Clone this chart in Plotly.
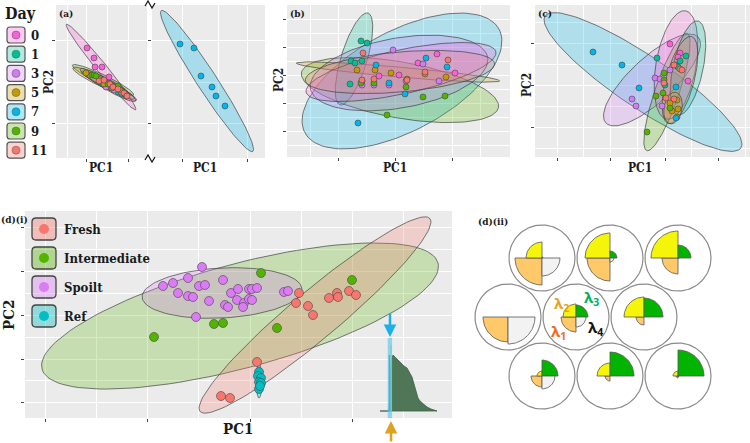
import numpy as np
import plotly.graph_objects as go

W, H = 750, 443
FONT = "DejaVu Serif Condensed, DejaVu Serif, serif"
SANS = "Open Sans, Noto Sans, sans-serif"


def px(x):
    return x / W


def py(y):
    return 1 - y / H


# ---------------- data ----------------
days = ["0", "1", "3", "5", "7", "9", "11"]
day_colors = ["#FB61D7", "#00C094", "#D07CF5", "#C49A00", "#00B6EB", "#53B400", "#F8766D"]

# panel (a) left: PC scores (screen units)
a_left_points = {
    "0": ([87, 94, 95, 102, 109], [48, 58, 67, 67, 77]),
    "5": ([86, 104, 112, 120], [73, 84, 88, 90]),
    "9": ([92, 94, 96, 108, 118], [75, 75, 76, 84, 86]),
    "1": ([100, 112, 118, 122, 126], [82, 88, 92, 94, 96]),
    "3": ([106, 114, 121], [87, 90, 92]),
    "11": ([99, 104, 110, 113, 118, 124, 127], [81, 80, 84, 87, 89, 93, 96]),
}
a_left_ellipses = [
    ("0", 101, 67, 55, 5, -51),
    ("9", 103, 80, 34, 5, -26),
    ("5", 101, 81, 31, 5, -25),
    ("1", 108, 85, 30, 4, -27),
    ("3", 110, 86, 30, 4, -28),
    ("11", 108, 85, 32, 5, -30),
]
a_right_points = {"7": ([180, 194, 201, 212, 216, 225], [44, 48, 76, 87, 96, 106])}
a_right_ellipses = [("7", 207, 81, 84, 10, -57)]

b_points = {
    "1": ([361, 367, 351, 355, 362, 350], [41, 43, 61, 63, 61, 84]),
    "11": ([363, 448, 425, 407, 374, 362], [53, 60, 72, 80, 79, 80]),
    "7": ([376, 426, 447, 389, 405, 358], [65, 58, 67, 83, 94, 123]),
    "3": ([393, 423, 439, 406, 374, 362, 389], [50, 64, 81, 81, 85, 85, 85]),
    "0": ([437, 418, 455, 379, 399, 362], [54, 63, 73, 76, 75, 81]),
    "5": ([357, 375, 391, 425, 446, 407], [70, 70, 73, 74, 77, 79]),
    "9": ([361, 374, 406, 423, 445, 387], [83, 83, 87, 97, 96, 115]),
}
b_ellipses = [
    ("7", 402, 81, 110, 50, 28),
    ("9", 400, 90, 100, 28, -10),
    ("1", 354, 59, 48, 13, 73),
    ("5", 398, 72, 102, 5, -5),
    ("3", 399, 73, 90, 35, 10),
    ("0", 401, 72, 97, 22, 12),
    ("11", 400, 72, 95, 20, 5),
]

c_points = {
    "7": ([593, 622, 639, 676, 676], [52, 65, 88, 87, 118]),
    "3": ([632, 636, 655, 660, 670, 662], [99, 106, 78, 79, 70, 106]),
    "0": ([670, 680, 678, 688, 675], [44, 53, 57, 81, 65]),
    "1": ([657, 686, 680, 665, 678], [58, 56, 61, 85, 67]),
    "9": ([647, 656, 664, 664, 663, 670], [132, 96, 73, 80, 93, 108]),
    "11": ([674, 680, 682, 664, 666, 674], [65, 69, 70, 83, 98, 99]),
    "5": ([670, 677, 678, 672, 677], [103, 100, 109, 111, 117]),
}
c_ellipses = [
    ("7", 643, 82, 118, 26, -34),
    ("3", 652, 80, 63, 22, 43),
    ("9", 667, 92, 62, 12, 71),
    ("0", 676, 65, 55, 20, 80),
    ("1", 688, 68, 48, 15, 78),
    ("11", 680, 80, 45, 14, 75),
    ("5", 673, 108, 16, 9, 80),
]

groups = ["Fresh", "Intermediate", "Spoilt", "Ref"]
group_colors = ["#F8766D", "#53B400", "#DB7BF5", "#00BFC4"]
d_points = {
    "Spoilt": ([202, 163, 173, 188, 178, 188, 193, 199, 205, 209, 223, 231, 238, 237, 244, 243, 225, 228,
                196, 249, 249, 252, 257, 252, 284, 288],
               [267, 286, 283, 278, 293, 296, 297, 286, 285, 301, 280, 293, 289, 300, 303, 307, 305, 307,
                317, 289, 299, 289, 288, 300, 292, 291]),
    "Intermediate": ([154, 214, 223, 261, 352, 277], [337, 324, 323, 273, 280, 328]),
    "Fresh": ([221, 230, 299, 296, 308, 313, 329, 337, 338, 349, 356, 257],
              [396, 398, 293, 303, 306, 315, 298, 293, 297, 291, 295, 362]),
    "Ref": ([259, 258, 261, 259, 261, 259, 260], [372, 376, 378, 382, 383, 389, 386]),
}
d_ellipses = [
    ("Intermediate", 240, 316, 205, 52, 15),
    ("Fresh", 315, 315, 150, 24, 40),
    ("Spoilt", 222, 293, 80, 25, 3),
    ("Ref", 259, 381, 17, 3, 90),
]
# density of reference spectrum (x, height above baseline)
dens_x = [380, 389, 390, 391, 393, 396, 400, 404, 407, 410, 412, 414, 416, 418, 420, 423, 427, 431, 435, 437]
dens_h = [0, 0, 20, 50, 56, 53, 48, 45, 43, 38, 34, 27, 19, 13, 10, 7, 4, 2, 0.5, 0]
dens_base = 411
ref_pos = 389.5

# panel (d)(ii): wedge radii per circle (row-major)
lam1 = [27, 23, 16, 25, 15, 8, 11, 5, 2]
lam2 = [16, 25, 27, 0, 13, 20, 5, 13, 5]
lam3 = [1, 7, 13, 0, 12, 19, 16, 24, 26]
lam4 = [18, 4, 1, 27, 10, 0, 13, 0, 1]

# ---------------- figure ----------------
fig = go.Figure()
layout = {}
shapes = []
annotations = []


def rgba(hexc, a):
    h = hexc.lstrip("#")
    r, g, b = int(h[0:2], 16), int(h[2:4], 16), int(h[4:6], 16)
    return f"rgba({r},{g},{b},{a})"


def add_axes(i, box, xt=None, yt=None, xm=None, ym=None, bg=True):
    x0, x1, y0, y1 = box
    sx = "" if i == 1 else str(i)
    common = dict(showticklabels=False, zeroline=False, showline=False, fixedrange=True,
                  ticks="outside" if bg else "", ticklen=3, tickcolor="#444", tickwidth=1,
                  showgrid=bg, gridcolor="white", gridwidth=1.2)
    layout["xaxis" + sx] = dict(domain=[px(x0), px(x1)], range=[x0, x1], anchor="y" + sx,
                                tickvals=xt or [], minor=dict(tickvals=xm or [], showgrid=bg,
                                                              gridcolor="white", gridwidth=0.6),
                                visible=bg, **common)
    layout["yaxis" + sx] = dict(domain=[py(y1), py(y0)], range=[y1, y0], anchor="x" + sx,
                                tickvals=yt or [], minor=dict(tickvals=ym or [], showgrid=bg,
                                                              gridcolor="white", gridwidth=0.6),
                                visible=bg, **common)
    if bg:
        shapes.append(dict(type="rect", xref="x" + sx + " domain", yref="y" + sx + " domain",
                           x0=0, x1=1, y0=0, y1=1, fillcolor="#EBEBEB", line=dict(width=0),
                           layer="below"))
    return "x" + sx, "y" + sx


def ellipse(cx, cy, a, b, th, n=120):
    t = np.linspace(0, 2 * np.pi, n)
    r = np.deg2rad(th)
    x = cx + a * np.cos(t) * np.cos(r) - b * np.sin(t) * np.sin(r)
    y = cy - (a * np.cos(t) * np.sin(r) + b * np.sin(t) * np.cos(r))
    return x, y


def draw_panel(xa, ya, ells, pts, names, colors, msize, alpha=0.28):
    cmap = dict(zip(names, colors))
    for (k, cx, cy, a, b, th) in ells:
        x, y = ellipse(cx, cy, a, b, th)
        fig.add_trace(go.Scatter(x=x, y=y, mode="lines", fill="toself",
                                 fillcolor=rgba(cmap[k], alpha),
                                 line=dict(color="rgba(60,60,60,0.75)", width=0.9),
                                 xaxis=xa, yaxis=ya, hoverinfo="skip", showlegend=False))
    for k in names:
        if k in pts:
            x, y = pts[k]
            fig.add_trace(go.Scatter(x=x, y=y, mode="markers",
                                     marker=dict(size=msize, color=cmap[k],
                                                 line=dict(color="#444", width=0.6)),
                                     xaxis=xa, yaxis=ya, showlegend=False, name=k))


# panel boxes (pixel frame)
xa1, ya1 = add_axes(1, (56, 147, 5, 158), xt=[86, 128], yt=[40, 123], xm=[67, 107], ym=[82])
xa2, ya2 = add_axes(2, (152, 265, 5, 158), xt=[182, 247], yt=[40, 123], xm=[218], ym=[82])
xa3, ya3 = add_axes(3, (287, 510, 5, 157), xt=[338, 395, 452], yt=[19, 47, 75, 103, 131],
                    xm=[310, 366, 423, 480], ym=[33, 61, 89, 117, 145])
xa4, ya4 = add_axes(4, (535, 750, 5, 157), xt=[557, 610, 665, 718], yt=[43, 85, 127],
                    xm=[583, 637, 691, 745], ym=[22, 64, 106, 148])
xa5, ya5 = add_axes(5, (25, 452, 211, 418), xt=[45, 147, 250, 352], yt=[227, 271, 315, 359, 402],
                    xm=[96, 198, 301, 403], ym=[249, 293, 337, 380])
xa6, ya6 = add_axes(6, (468, 750, 212, 443), bg=False)

draw_panel(xa1, ya1, a_left_ellipses, a_left_points, days, day_colors, 6)
draw_panel(xa2, ya2, a_right_ellipses, a_right_points, days, day_colors, 6)
draw_panel(xa3, ya3, b_ellipses, b_points, days, day_colors, 6, alpha=0.25)
draw_panel(xa4, ya4, c_ellipses, c_points, days, day_colors, 6, alpha=0.25)
draw_panel(xa5, ya5, d_ellipses, d_points, groups, group_colors, 9, alpha=0.25)

# density of reference + markers
shapes.append(dict(type="rect", xref=xa5, yref=ya5, x0=ref_pos - 1.8, x1=ref_pos + 2.6, y0=338, y1=418,
                   fillcolor="rgba(90,200,240,0.65)", line=dict(width=0), layer="above"))
dy = [dens_base - h for h in dens_h]
fig.add_trace(go.Scatter(x=dens_x + [dens_x[-1], dens_x[0]], y=dy + [dens_base, dens_base],
                         mode="lines", fill="toself", fillcolor="#4F7757",
                         line=dict(color="#3E5E44", width=0.8), xaxis=xa5, yaxis=ya5,
                         hoverinfo="skip", showlegend=False))
fig.add_trace(go.Scatter(x=[ref_pos, ref_pos], y=[355, 411], mode="lines",
                         line=dict(color="#1878C8", width=1.5), xaxis=xa5, yaxis=ya5,
                         hoverinfo="skip", showlegend=False))
fig.add_trace(go.Scatter(x=[ref_pos + 1.6, ref_pos + 1.6], y=[345, 411], mode="lines",
                         line=dict(color="#B8E06A", width=1.2), xaxis=xa5, yaxis=ya5,
                         hoverinfo="skip", showlegend=False))

# panel (d)(ii): circles with quarter wedges
ring_r = 33
col_step, row_step = 68, 59
wedge_colors = ["#FFC869", "#F5F50A", "#00B400", "#F2F2F2"]   # lam1, lam2, lam3, lam4
wedge_start = [180, 90, 0, 270]
for idx in range(9):
    row, col = divmod(idx, 3)
    cx = 542 + col * col_step - (34 if row == 1 else 0)
    cy = 258 + row * row_step
    t = np.linspace(0, 2 * np.pi, 100)
    fig.add_trace(go.Scatter(x=cx + ring_r * np.cos(t), y=cy - ring_r * np.sin(t), mode="lines",
                             fill="toself", fillcolor="white", line=dict(color="#8A8A8A", width=1.2),
                             xaxis=xa6, yaxis=ya6, hoverinfo="skip", showlegend=False))
    for lam, colr, st in zip([lam1, lam2, lam3, lam4], wedge_colors, wedge_start):
        r = lam[idx]
        if r <= 0:
            continue
        a = np.deg2rad(np.linspace(st, st + 90, 30))
        wx = np.concatenate([[cx], cx + r * np.cos(a), [cx]])
        wy = np.concatenate([[cy], cy - r * np.sin(a), [cy]])
        fig.add_trace(go.Scatter(x=wx, y=wy, mode="lines", fill="toself", fillcolor=colr,
                                 line=dict(color="#555", width=0.8), xaxis=xa6, yaxis=ya6,
                                 hoverinfo="skip", showlegend=False))


# ---------------- text & decorations ----------------
def ann(x, y, text, size, color="#1a1a1a", xanchor="center", angle=0, family=FONT):
    annotations.append(dict(x=px(x), y=py(y), xref="paper", yref="paper", text=text, showarrow=False,
                            xanchor=xanchor, yanchor="middle", textangle=angle, borderpad=0,
                            font=dict(family=family, size=size, color=color, weight="bold")))


ann(20, 13, "Day", 16)
for i, (d, c) in enumerate(zip(days, day_colors)):
    cy = 35 + i * 19.2
    x0, x1, y0, y1, r = 7, 25, cy - 8, cy + 8, 3
    path = (f"M {px(x0 + r)},{py(y0)} L {px(x1 - r)},{py(y0)} Q {px(x1)},{py(y0)} {px(x1)},{py(y0 + r)} "
            f"L {px(x1)},{py(y1 - r)} Q {px(x1)},{py(y1)} {px(x1 - r)},{py(y1)} L {px(x0 + r)},{py(y1)} "
            f"Q {px(x0)},{py(y1)} {px(x0)},{py(y1 - r)} L {px(x0)},{py(y0 + r)} Q {px(x0)},{py(y0)} "
            f"{px(x0 + r)},{py(y0)} Z")
    shapes.append(dict(type="path", xref="paper", yref="paper", path=path, fillcolor=rgba(c, 0.32),
                       line=dict(color="#555", width=1.2), layer="above"))
    shapes.append(dict(type="circle", xref="paper", yref="paper", x0=px(16 - 4), x1=px(16 + 4),
                       y0=py(cy + 4), y1=py(cy - 4), fillcolor=c, line=dict(color="#555", width=0.5),
                       layer="above"))
    ann(30, cy, d, 13, xanchor="left")

for i, (g, c) in enumerate(zip(groups, group_colors)):
    cy = 229 + i * 29
    x0, x1, y0, y1, r = 32, 56, cy - 11, cy + 11, 4
    path = (f"M {px(x0 + r)},{py(y0)} L {px(x1 - r)},{py(y0)} Q {px(x1)},{py(y0)} {px(x1)},{py(y0 + r)} "
            f"L {px(x1)},{py(y1 - r)} Q {px(x1)},{py(y1)} {px(x1 - r)},{py(y1)} L {px(x0 + r)},{py(y1)} "
            f"Q {px(x0)},{py(y1)} {px(x0)},{py(y1 - r)} L {px(x0)},{py(y0 + r)} Q {px(x0)},{py(y0)} "
            f"{px(x0 + r)},{py(y0)} Z")
    shapes.append(dict(type="path", xref="paper", yref="paper", path=path, fillcolor=rgba(c, 0.38),
                       line=dict(color="#444", width=1.3), layer="above"))
    shapes.append(dict(type="circle", xref="paper", yref="paper", x0=px(44 - 5), x1=px(44 + 5),
                       y0=py(cy + 5), y1=py(cy - 5), fillcolor=c, line=dict(width=0), layer="above"))
    ann(63, cy, g, 13, xanchor="left")

ann(58, 13, "(a)", 10, xanchor="left")
ann(289, 13, "(b)", 10, xanchor="left")
ann(537, 13, "(c)", 10, xanchor="left")
ann(0, 219, "(d)(i)", 10, xanchor="left")
ann(477, 221, "(d)(ii)", 10, xanchor="left")
for xx in [101, 205, 395, 640]:
    ann(xx, 168, "PC1", 12)
ann(49, 82, "PC2", 12, angle=-90)
ann(279, 80, "PC2", 12, angle=-90)
ann(527, 85, "PC2", 12, angle=-90)
ann(238, 429, "PC1", 15)
ann(9, 315, "PC2", 15, angle=-90)

# lambda labels
ann(561, 304, "λ<sub>2</sub>", 15, color="#E8A020", family=SANS)
ann(591, 298, "λ<sub>3</sub>", 15, color="#00B060", family=SANS)
ann(558, 332, "λ<sub>1</sub>", 15, color="#F06A1E", family=SANS)
ann(595, 328, "λ<sub>4</sub>", 15, color="#111111", family=SANS)

# arrows marking reference position
annotations.append(dict(x=px(390), y=py(337), xref="paper", yref="paper", ax=0, ay=-25,
                        showarrow=True, arrowhead=2, arrowsize=1,
                        arrowwidth=2.5, arrowcolor="#1CB0E8", text=""))
annotations.append(dict(x=px(391), y=py(421), xref="paper", yref="paper", ax=0, ay=22,
                        showarrow=True, arrowhead=2, arrowsize=1,
                        arrowwidth=2.5, arrowcolor="#E0A020", text=""))

# axis-break marks
for yy in [4, 158]:
    path = f"M {px(145)},{py(yy + 2)} L {px(148)},{py(yy - 3)} L {px(152)},{py(yy + 4)} L {px(155)},{py(yy - 1)}"
    shapes.append(dict(type="path", xref="paper", yref="paper", path=path,
                       line=dict(color="#111", width=1.2), layer="above"))

fig.update_layout(**layout)
fig.update_layout(width=W, height=H, margin=dict(l=0, r=0, t=0, b=0), paper_bgcolor="white",
                  plot_bgcolor="rgba(0,0,0,0)", showlegend=False, shapes=shapes,
                  annotations=annotations)
fig.write_html("out.html", config={"displayModeBar": False},
               post_script="document.body.style.margin='0';document.body.style.overflow='hidden';")
